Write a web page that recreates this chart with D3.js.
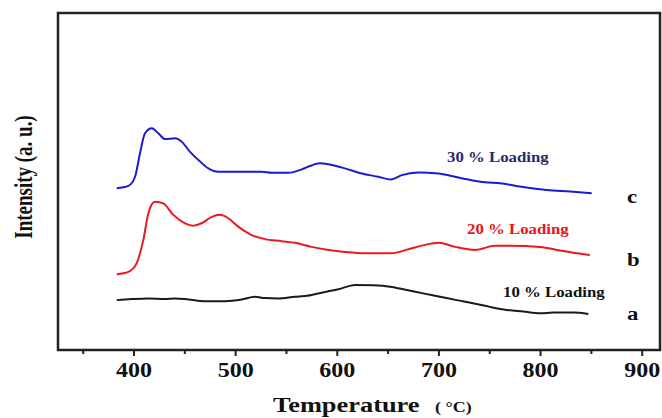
<!DOCTYPE html>
<html>
<head>
<meta charset="utf-8">
<script src="https://cdn.jsdelivr.net/npm/d3@7"></script>
<style>
	body { margin: 0; background: #fff; }
</style>
</head>
<body>
<div id="outer"></div>
<script>
////////// DATA //////////
const majorTicks = [400, 500, 600, 700, 800, 900];
const minorTicks = [350, 450, 550, 650, 750, 850];

// [temperature °C, intensity a.u.]
const loading30 = [
	[383.5, 48.0], [395, 48.7], [401.5, 51.4], [406.4, 58.4], [411.3, 64.3], [418, 65.8],
	[424.4, 64.3], [431, 62.6], [440.8, 62.8], [447.4, 61.8], [455.6, 58.8], [463.8, 56.4],
	[473.6, 53.9], [483.4, 52.9], [503, 52.9], [526, 52.9], [536, 52.6], [552.3, 52.6],
	[565.5, 53.6], [572, 54.4], [583.5, 55.4], [591.7, 55.1], [608, 53.9], [624.5, 52.4],
	[640.8, 51.4], [653.3, 50.6], [663.9, 51.9], [680, 52.7], [700, 52.4], [716.3, 51.4],
	[732.7, 50.4], [745.8, 49.8], [760.6, 49.5], [780, 48.5], [806.5, 47.5], [829.5, 47.0],
	[850.8, 46.5]
];
const loading20 = [
	[383.5, 22.5], [395, 23.2], [403, 25.7], [409.6, 32.6], [414.6, 40.6], [421, 44.0],
	[429.3, 43.5], [439.2, 40.1], [450.7, 37.6], [458.8, 36.9], [467, 37.6], [477, 39.5],
	[485, 40.1], [493.3, 39.1], [503, 36.6], [516.3, 34.1], [529.4, 32.9], [545.8, 32.3],
	[559, 31.8], [575, 30.6], [591.7, 29.7], [608, 29.1], [627.8, 28.7], [654, 28.7],
	[670.4, 29.9], [686.8, 31.2], [700, 31.8], [716.3, 30.6], [736, 29.7], [755.7, 30.9],
	[770.4, 30.9], [800, 30.6], [819.6, 29.5], [836, 28.7], [849, 28.2]
];
const loading10 = [
	[383.5, 14.8], [398, 15.1], [414.6, 15.3], [431, 15.1], [440.8, 15.3], [454, 15.0],
	[470.3, 14.5], [490, 14.5], [506.5, 15.0], [519.5, 15.8], [529.4, 15.4], [542.5, 15.3],
	[559, 15.8], [568.7, 16.0], [585, 17.0], [601.5, 18.0], [618, 19.3], [636, 19.2],
	[652.4, 18.8], [668.8, 17.8], [685, 16.8], [701.6, 15.8], [718, 14.8], [734, 13.9],
	[750.7, 12.8], [767, 11.9], [783.5, 11.4], [800, 10.9], [813, 11.1], [832.7, 11.1],
	[847.5, 10.7]
];

const seriesNames = ['30 % Loading', '20 % Loading', '10 % Loading'];
const seriesLetters = ['c', 'b', 'a'];

function drawChart () {
	const widget = {};

	////////// Hard Coded Defs //////////
	const font = '"Liberation Serif", "Times New Roman", serif';
	const stretch = 1.2;	// the picture is a little wider than tall
	const margin = {top: 13, left: 58, right: 2, bottom: 68};
	const width = 662, height = 418;
	const lineColors = ['#1a1ad2', '#ea1820', '#1a1a1a'];
	const labelColors = ['#1f2d6e', '#e8141b', '#111'];

	const x = d3.scaleLinear().domain([325.7, 918]).range([margin.left, width - margin.right]);
	const y = d3.scaleLinear().domain([0, 100]).range([height - margin.bottom, margin.top]);

	////////// SVG //////////
	widget.outerDiv = d3.select('#outer')
		.style('width', width + 'px')
		.style('height', height + 'px')
		.style('overflow', 'hidden');

	widget.svg = widget.outerDiv.append('svg')
		.attr('width', width)
		.attr('height', height)
		.style('background', '#fff');

	const addText = (g, tx, ty, str, size, color, anchor) => g.append('text')
		.attr('transform', `translate(${tx},${ty}) scale(${stretch},1)`)
		.attr('text-anchor', anchor || 'start')
		.attr('font-family', font)
		.attr('font-weight', 'bold')
		.attr('font-size', size)
		.attr('fill', color)
		.text(str);

	// ********** AXES ********** //
	const axisY = height - margin.bottom;
	const majorAxis = widget.svg.append('g')
		.attr('transform', `translate(0,${axisY})`)
		.call(d3.axisBottom(x).tickValues(majorTicks).tickSize(6).tickFormat(d3.format('d')));
	majorAxis.select('.domain').remove();
	majorAxis.selectAll('line').attr('stroke', '#222').attr('stroke-width', 2);
	majorAxis.selectAll('text')
		.attr('font-family', font)
		.attr('font-weight', 'bold')
		.attr('font-size', 20)
		.attr('fill', '#111')
		.attr('y', 27)
		.attr('dy', 0)
		.attr('transform', `scale(${stretch},1)`);

	const minorAxis = widget.svg.append('g')
		.attr('transform', `translate(0,${axisY})`)
		.call(d3.axisBottom(x).tickValues(minorTicks).tickSize(4).tickFormat(''));
	minorAxis.select('.domain').remove();
	minorAxis.selectAll('line').attr('stroke', '#222').attr('stroke-width', 2);

	// ********** FRAME ********** //
	widget.svg.append('rect')
		.attr('x', margin.left)
		.attr('y', margin.top)
		.attr('width', width - margin.right - margin.left)
		.attr('height', axisY - margin.top)
		.attr('fill', 'none')
		.attr('stroke', '#222')
		.attr('stroke-width', 2.5);

	// ********** CURVES ********** //
	const line = d3.line()
		.x(d => x(d[0]))
		.y(d => y(d[1]))
		.curve(d3.curveMonotoneX);

	[loading30, loading20, loading10].forEach((s, i) => {
		widget.svg.append('path')
			.datum(s)
			.attr('d', line)
			.attr('fill', 'none')
			.attr('stroke', lineColors[i])
			.attr('stroke-width', 2)
			.attr('stroke-linejoin', 'round');
	});

	// ********** LABELS ********** //
	const labels = widget.svg.append('g');
	addText(labels, 447, 162, seriesNames[0], 14, labelColors[0]);
	addText(labels, 467, 234, seriesNames[1], 14, labelColors[1]);
	addText(labels, 503, 297, seriesNames[2], 14, labelColors[2]);

	addText(labels, 627, 203, seriesLetters[0], 19, '#111');
	addText(labels, 627, 266, seriesLetters[1], 19, '#111');
	addText(labels, 627, 320, seriesLetters[2], 19, '#111');

	addText(labels, 273, 412, 'Temperature', 22, '#111');
	addText(labels, 435, 412, '( °C)', 15, '#111');

	labels.append('text')
		.attr('transform', `translate(32,177) rotate(-90) scale(1,1.3)`)
		.attr('text-anchor', 'middle')
		.attr('font-family', font)
		.attr('font-weight', 'bold')
		.attr('font-size', 19)
		.attr('fill', '#111')
		.text('Intensity (a. u.)');
}

drawChart();
</script>
</body>
</html>
